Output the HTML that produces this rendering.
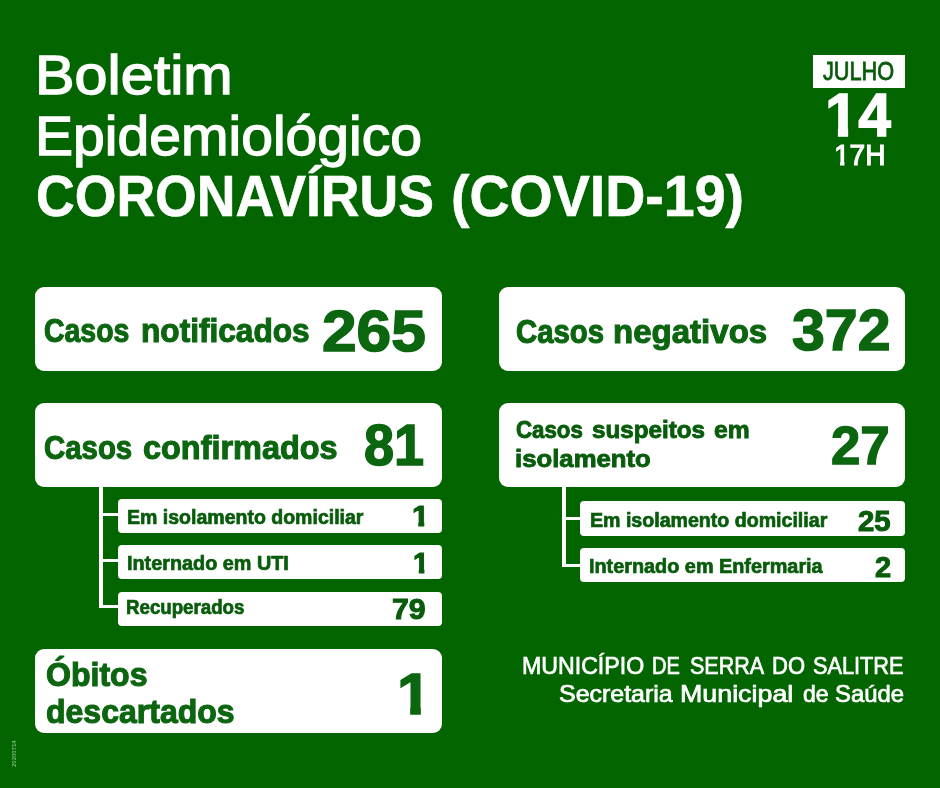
<!DOCTYPE html>
<html lang="pt-BR">
<head>
<meta charset="utf-8">
<title>Boletim Epidemiológico CORONAVÍRUS (COVID-19)</title>
<style>
html,body{margin:0;padding:0;}
body{width:940px;height:788px;background:#036500;position:relative;overflow:hidden;font-family:"Liberation Sans",sans-serif;}
.tx,.shape{position:absolute;white-space:nowrap;}
.box{background:#fff;border-radius:9px;}
.sub{background:#fff;border-radius:4px;}
.ln{background:#fff;}
</style>
</head>
<body>
<div class="shape" style="left:813px;top:55px;width:92px;height:33px;background:#fff;"></div>
<div class="shape box" style="left:35px;top:287px;width:407px;height:84px;"></div>
<div class="shape box" style="left:35px;top:403px;width:407px;height:84px;"></div>
<div class="shape box" style="left:35px;top:649px;width:407px;height:84px;"></div>
<div class="shape box" style="left:499px;top:287px;width:406px;height:84px;"></div>
<div class="shape box" style="left:499px;top:403px;width:406px;height:84px;"></div>
<div class="shape ln" style="left:98.5px;top:480px;width:4px;height:128px;"></div>
<div class="shape ln" style="left:99px;top:513px;width:22px;height:3px;"></div>
<div class="shape ln" style="left:99px;top:559px;width:22px;height:3px;"></div>
<div class="shape ln" style="left:99px;top:605px;width:22px;height:3px;"></div>
<div class="shape sub" style="left:118px;top:499px;width:324px;height:34px;"></div>
<div class="shape sub" style="left:118px;top:545px;width:324px;height:34px;"></div>
<div class="shape sub" style="left:118px;top:592px;width:324px;height:34px;"></div>
<div class="shape ln" style="left:561.5px;top:480px;width:4px;height:87px;"></div>
<div class="shape ln" style="left:562px;top:517px;width:22px;height:3px;"></div>
<div class="shape ln" style="left:562px;top:564px;width:22px;height:3px;"></div>
<div class="shape sub" style="left:580px;top:501px;width:325px;height:35px;"></div>
<div class="shape sub" style="left:580px;top:548px;width:325px;height:34px;"></div>
<div class="tx" id="t1" style="left:35.20px;top:41.00px;font-size:56.40px;line-height:67.68px;font-weight:400;color:#fff;-webkit-text-stroke:1.4px #fff;transform:scaleX(1.0514);transform-origin:0 0;">Boletim</div>
<div class="tx" id="t2" style="left:35.25px;top:102.10px;font-size:56.40px;line-height:67.68px;font-weight:400;color:#fff;-webkit-text-stroke:1.4px #fff;transform:scaleX(1.0119);transform-origin:0 0;">Epidemiológico</div>
<div class="tx" id="t3" style="left:35.65px;top:161.00px;font-size:58.00px;line-height:69.60px;font-weight:700;color:#fff;-webkit-text-stroke:0.6px #fff;transform:scaleX(0.9239);transform-origin:0 0;">CORONAVÍRUS</div>
<div class="tx" id="t3b" style="left:450.99px;top:161.00px;font-size:58.00px;line-height:69.60px;font-weight:700;color:#fff;-webkit-text-stroke:0.6px #fff;transform:scaleX(0.9573);transform-origin:0 0;">(COVID-19)</div>
<div class="tx" id="jul" style="left:823.30px;top:56.10px;font-size:25.30px;line-height:30.36px;font-weight:400;color:#085c0b;-webkit-text-stroke:0.8px #085c0b;transform:scaleX(0.8586);transform-origin:0 0;">JULHO</div>
<div class="tx" id="d14" style="left:825.05px;top:78.70px;font-size:60.60px;line-height:72.72px;font-weight:700;color:#fff;-webkit-text-stroke:1.4px #fff;clip-path:polygon(0 0,100% 0,100% 100%,33.4px 100%,33.4px 49.1px,23.5px 49.1px,23.5px 100%,13.1px 100%,13.1px 49.1px,0 49.1px);transform:scaleX(0.9844);transform-origin:0 0;">14</div>
<div class="tx" id="h17" style="left:834.13px;top:137.40px;font-size:30.00px;line-height:36.00px;font-weight:400;color:#fff;-webkit-text-stroke:1.2px #fff;clip-path:polygon(0 0,100% 0,100% 100%,16.4px 100%,16.4px 24.1px,11.2px 24.1px,11.2px 100%,6.5px 100%,6.5px 24.1px,0 24.1px);transform:scaleX(0.9353);transform-origin:0 0;">17H</div>
<div class="tx" id="l1a" style="left:44.03px;top:311.00px;font-size:32.60px;line-height:39.12px;font-weight:700;color:#0c6610;-webkit-text-stroke:1.1px #0c6610;transform:scaleX(0.8730);transform-origin:0 0;">Casos</div>
<div class="tx" id="l1a1" style="left:140.53px;top:311.00px;font-size:32.60px;line-height:39.12px;font-weight:700;color:#0c6610;-webkit-text-stroke:1.1px #0c6610;transform:scaleX(0.9709);transform-origin:0 0;">notificados</div>
<div class="tx" id="l1b" style="left:321.72px;top:297.00px;font-size:57.80px;line-height:69.36px;font-weight:700;color:#0c6610;-webkit-text-stroke:1.5px #0c6610;transform:scaleX(1.0768);transform-origin:0 0;">265</div>
<div class="tx" id="l2a" style="left:44.20px;top:427.60px;font-size:32.60px;line-height:39.12px;font-weight:700;color:#0c6610;-webkit-text-stroke:1.1px #0c6610;transform:scaleX(0.9021);transform-origin:0 0;">Casos</div>
<div class="tx" id="l2a1" style="left:143.31px;top:427.60px;font-size:32.60px;line-height:39.12px;font-weight:700;color:#0c6610;-webkit-text-stroke:1.1px #0c6610;transform:scaleX(0.9954);transform-origin:0 0;">confirmados</div>
<div class="tx" id="l2b" style="left:363.55px;top:410.60px;font-size:57.80px;line-height:69.36px;font-weight:700;color:#0c6610;-webkit-text-stroke:1.5px #0c6610;transform:scaleX(0.9368);transform-origin:0 0;">81</div>
<div class="tx" id="s1a" style="left:127.00px;top:505.80px;font-size:19.60px;line-height:23.52px;font-weight:700;color:#085c0b;-webkit-text-stroke:0.7px #085c0b;transform:scaleX(0.9962);transform-origin:0 0;">Em isolamento domiciliar</div>
<div class="tx" id="s1b" style="left:412.32px;top:499.00px;font-size:28.60px;line-height:34.32px;font-weight:700;color:#085c0b;-webkit-text-stroke:1.0px #085c0b;clip-path:polygon(0 0,100% 0,100% 22.3px,11.5px 22.3px,11.5px 100%,5.8px 100%,5.8px 22.3px,0 22.3px);transform:scaleX(1.0703);transform-origin:0 0;">1</div>
<div class="tx" id="s2a" style="left:126.59px;top:551.70px;font-size:19.60px;line-height:23.52px;font-weight:700;color:#085c0b;-webkit-text-stroke:0.7px #085c0b;transform:scaleX(1.0114);transform-origin:0 0;">Internado em UTI</div>
<div class="tx" id="s2b" style="left:413.01px;top:545.90px;font-size:28.60px;line-height:34.32px;font-weight:700;color:#085c0b;-webkit-text-stroke:1.0px #085c0b;clip-path:polygon(0 0,100% 0,100% 22.3px,11.5px 22.3px,11.5px 100%,5.8px 100%,5.8px 22.3px,0 22.3px);transform:scaleX(0.9934);transform-origin:0 0;">1</div>
<div class="tx" id="s3a" style="left:126.45px;top:596.40px;font-size:19.60px;line-height:23.52px;font-weight:700;color:#085c0b;-webkit-text-stroke:0.7px #085c0b;transform:scaleX(0.9537);transform-origin:0 0;">Recuperados</div>
<div class="tx" id="s3b" style="left:392.14px;top:592.10px;font-size:28.60px;line-height:34.32px;font-weight:700;color:#085c0b;-webkit-text-stroke:1.0px #085c0b;transform:scaleX(1.0605);transform-origin:0 0;">79</div>
<div class="tx" id="l3a" style="left:45.61px;top:655.20px;font-size:32.60px;line-height:39.12px;font-weight:700;color:#0c6610;-webkit-text-stroke:1.1px #0c6610;transform:scaleX(0.9842);transform-origin:0 0;">Óbitos</div>
<div class="tx" id="l3c" style="left:45.52px;top:691.90px;font-size:32.60px;line-height:39.12px;font-weight:700;color:#0c6610;-webkit-text-stroke:1.1px #0c6610;transform:scaleX(0.9826);transform-origin:0 0;">descartados</div>
<div class="tx" id="l3b" style="left:396.52px;top:660.00px;font-size:57.80px;line-height:69.36px;font-weight:700;color:#0c6610;-webkit-text-stroke:1.5px #0c6610;clip-path:polygon(0 0,100% 0,100% 46.7px,22.5px 46.7px,22.5px 100%,12.4px 100%,12.4px 46.7px,0 46.7px);transform:scaleX(1.0606);transform-origin:0 0;">1</div>
<div class="tx" id="r1a" style="left:515.90px;top:312.20px;font-size:32.60px;line-height:39.12px;font-weight:700;color:#0c6610;-webkit-text-stroke:1.1px #0c6610;transform:scaleX(0.9011);transform-origin:0 0;">Casos</div>
<div class="tx" id="r1a1" style="left:612.89px;top:312.20px;font-size:32.60px;line-height:39.12px;font-weight:700;color:#0c6610;-webkit-text-stroke:1.1px #0c6610;transform:scaleX(1.0140);transform-origin:0 0;">negativos</div>
<div class="tx" id="r1b" style="left:792.38px;top:295.70px;font-size:57.80px;line-height:69.36px;font-weight:700;color:#0c6610;-webkit-text-stroke:1.5px #0c6610;transform:scaleX(1.0224);transform-origin:0 0;">372</div>
<div class="tx" id="r2a" style="left:515.90px;top:415.10px;font-size:24.60px;line-height:29.52px;font-weight:700;color:#085c0b;-webkit-text-stroke:0.9px #085c0b;transform:scaleX(0.9055);transform-origin:0 0;">Casos</div>
<div class="tx" id="r2a1" style="left:591.90px;top:415.10px;font-size:24.60px;line-height:29.52px;font-weight:700;color:#085c0b;-webkit-text-stroke:0.9px #085c0b;transform:scaleX(0.9842);transform-origin:0 0;">suspeitos</div>
<div class="tx" id="r2a2" style="left:713.79px;top:415.10px;font-size:24.60px;line-height:29.52px;font-weight:700;color:#085c0b;-webkit-text-stroke:0.9px #085c0b;transform:scaleX(1.0032);transform-origin:0 0;">em</div>
<div class="tx" id="r2c" style="left:515.45px;top:443.60px;font-size:24.60px;line-height:29.52px;font-weight:700;color:#085c0b;-webkit-text-stroke:0.9px #085c0b;transform:scaleX(1.0461);transform-origin:0 0;">isolamento</div>
<div class="tx" id="r2b" style="left:831.43px;top:413.00px;font-size:54.40px;line-height:65.28px;font-weight:700;color:#0c6610;-webkit-text-stroke:1.4px #0c6610;transform:scaleX(0.9707);transform-origin:0 0;">27</div>
<div class="tx" id="q1a" style="left:589.50px;top:508.80px;font-size:19.60px;line-height:23.52px;font-weight:700;color:#085c0b;-webkit-text-stroke:0.7px #085c0b;transform:scaleX(0.9996);transform-origin:0 0;">Em isolamento domiciliar</div>
<div class="tx" id="q1b" style="left:857.60px;top:503.50px;font-size:28.60px;line-height:34.32px;font-weight:700;color:#085c0b;-webkit-text-stroke:1.0px #085c0b;transform:scaleX(1.0253);transform-origin:0 0;">25</div>
<div class="tx" id="q2a" style="left:589.49px;top:554.80px;font-size:19.60px;line-height:23.52px;font-weight:700;color:#085c0b;-webkit-text-stroke:0.7px #085c0b;transform:scaleX(1.0121);transform-origin:0 0;">Internado em Enfermaria</div>
<div class="tx" id="q2b" style="left:875.12px;top:550.30px;font-size:28.60px;line-height:34.32px;font-weight:700;color:#085c0b;-webkit-text-stroke:1.0px #085c0b;transform:scaleX(1.0145);transform-origin:0 0;">2</div>
<div class="tx" id="f1" style="left:522.30px;top:653.40px;font-size:23.20px;line-height:27.84px;font-weight:400;color:#fff;-webkit-text-stroke:0.7px #fff;transform:scaleX(0.9984);transform-origin:0 0;">MUNICÍPIO</div>
<div class="tx" id="f1a" style="left:652.05px;top:653.40px;font-size:23.20px;line-height:27.84px;font-weight:400;color:#fff;-webkit-text-stroke:0.7px #fff;transform:scaleX(0.8649);transform-origin:0 0;">DE</div>
<div class="tx" id="f1b" style="left:690.07px;top:653.40px;font-size:23.20px;line-height:27.84px;font-weight:400;color:#fff;-webkit-text-stroke:0.7px #fff;transform:scaleX(0.9266);transform-origin:0 0;">SERRA</div>
<div class="tx" id="f1c" style="left:771.55px;top:653.40px;font-size:23.20px;line-height:27.84px;font-weight:400;color:#fff;-webkit-text-stroke:0.7px #fff;transform:scaleX(0.9485);transform-origin:0 0;">DO</div>
<div class="tx" id="f1d" style="left:813.36px;top:653.40px;font-size:23.20px;line-height:27.84px;font-weight:400;color:#fff;-webkit-text-stroke:0.7px #fff;transform:scaleX(0.9368);transform-origin:0 0;">SALITRE</div>
<div class="tx" id="f2" style="left:558.72px;top:681.20px;font-size:23.20px;line-height:27.84px;font-weight:400;color:#fff;-webkit-text-stroke:0.7px #fff;transform:scaleX(1.0762);transform-origin:0 0;">Secretaria</div>
<div class="tx" id="f2a" style="left:680.23px;top:681.20px;font-size:23.20px;line-height:27.84px;font-weight:400;color:#fff;-webkit-text-stroke:0.7px #fff;transform:scaleX(1.1563);transform-origin:0 0;">Municipal</div>
<div class="tx" id="f2b" style="left:802.51px;top:681.20px;font-size:23.20px;line-height:27.84px;font-weight:400;color:#fff;-webkit-text-stroke:0.7px #fff;transform:scaleX(0.9925);transform-origin:0 0;">de</div>
<div class="tx" id="f2c" style="left:834.77px;top:681.20px;font-size:23.20px;line-height:27.84px;font-weight:400;color:#fff;-webkit-text-stroke:0.7px #fff;transform:scaleX(1.0288);transform-origin:0 0;">Saúde</div>
<div class="tx" id="tiny" style="left:12px;top:767px;width:23px;font-size:6px;line-height:5.5px;font-weight:bold;color:#74bd74;transform:rotate(-90deg);transform-origin:0 0;">20200714</div>

</body>
</html>
